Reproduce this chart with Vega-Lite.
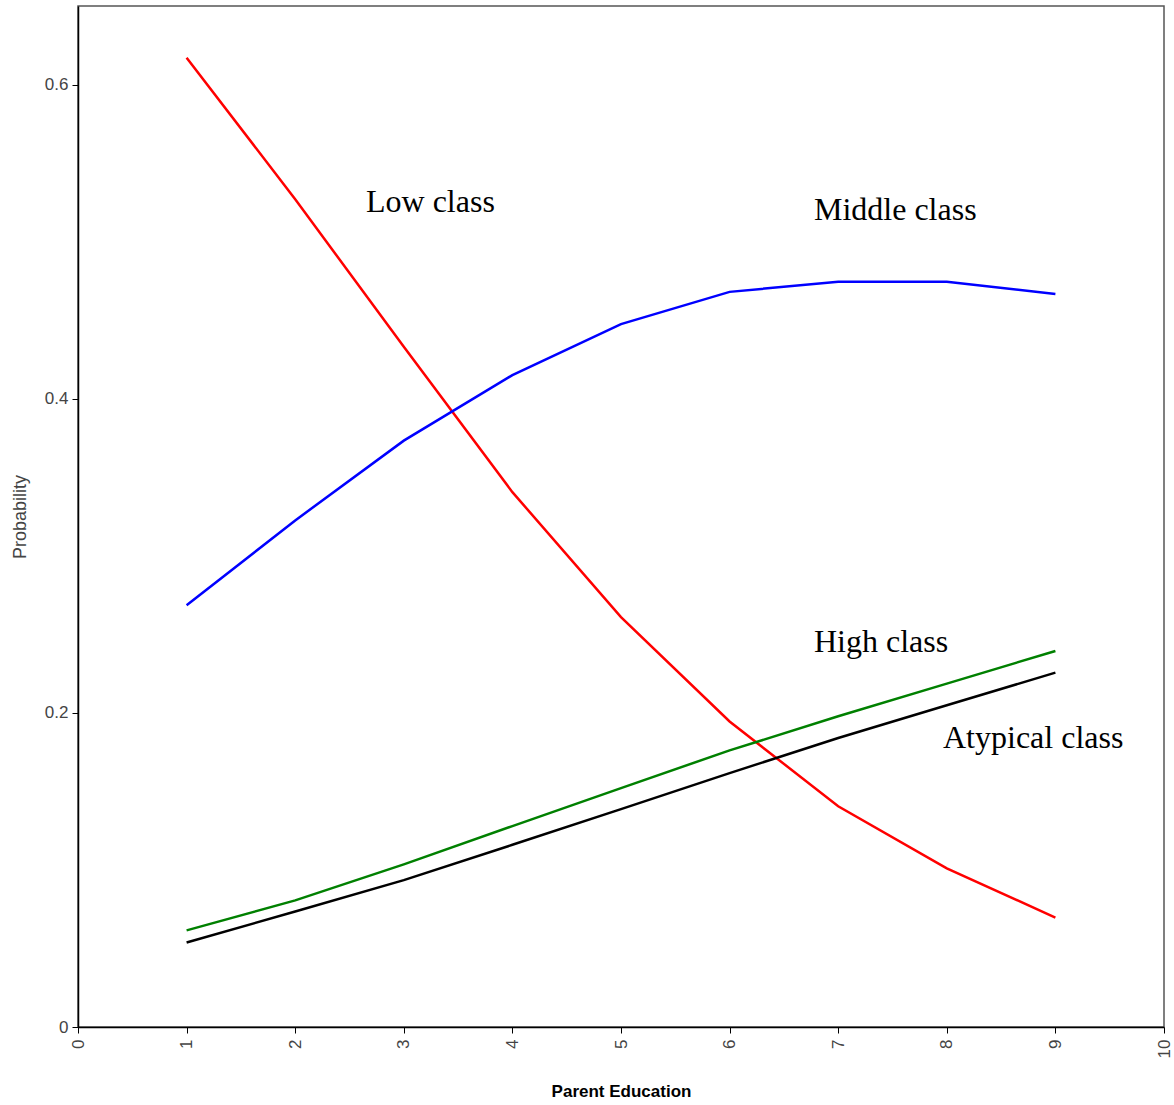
{
  "$schema": "https://vega.github.io/schema/vega-lite/v6.json",
  "width": 1086,
  "height": 1021,
  "autosize": {"type": "none"},
  "padding": {"left": 78, "top": 6, "right": 10, "bottom": 78},
  "background": "white",
  "config": {
    "view": {"stroke": "#555555", "strokeWidth": 1.5},
    "axis": {
      "grid": false,
      "domainColor": "#000000",
      "domainWidth": 1.5,
      "tickColor": "#000000",
      "tickSize": 6,
      "labelFont": "Liberation Sans",
      "labelFontSize": 17,
      "labelColor": "#444444",
      "titleFont": "Liberation Sans",
      "titleFontWeight": "normal"
    }
  },
  "datasets": {
    "curves": [
      {"edu": 1, "prob": 0.617, "cls": "Low"},
      {"edu": 2, "prob": 0.527, "cls": "Low"},
      {"edu": 3, "prob": 0.433, "cls": "Low"},
      {"edu": 4, "prob": 0.3405, "cls": "Low"},
      {"edu": 5, "prob": 0.261, "cls": "Low"},
      {"edu": 6, "prob": 0.1945, "cls": "Low"},
      {"edu": 7, "prob": 0.1405, "cls": "Low"},
      {"edu": 8, "prob": 0.101, "cls": "Low"},
      {"edu": 9, "prob": 0.0697, "cls": "Low"},
      {"edu": 1, "prob": 0.2685, "cls": "Middle"},
      {"edu": 2, "prob": 0.3225, "cls": "Middle"},
      {"edu": 3, "prob": 0.3733, "cls": "Middle"},
      {"edu": 4, "prob": 0.415, "cls": "Middle"},
      {"edu": 5, "prob": 0.4475, "cls": "Middle"},
      {"edu": 6, "prob": 0.468, "cls": "Middle"},
      {"edu": 7, "prob": 0.4745, "cls": "Middle"},
      {"edu": 8, "prob": 0.4745, "cls": "Middle"},
      {"edu": 9, "prob": 0.4666, "cls": "Middle"},
      {"edu": 1, "prob": 0.0615, "cls": "High"},
      {"edu": 2, "prob": 0.0806, "cls": "High"},
      {"edu": 3, "prob": 0.1035, "cls": "High"},
      {"edu": 4, "prob": 0.1279, "cls": "High"},
      {"edu": 5, "prob": 0.1521, "cls": "High"},
      {"edu": 6, "prob": 0.1761, "cls": "High"},
      {"edu": 7, "prob": 0.1978, "cls": "High"},
      {"edu": 8, "prob": 0.2186, "cls": "High"},
      {"edu": 9, "prob": 0.2394, "cls": "High"},
      {"edu": 1, "prob": 0.0538, "cls": "Atypical"},
      {"edu": 2, "prob": 0.0735, "cls": "Atypical"},
      {"edu": 3, "prob": 0.0935, "cls": "Atypical"},
      {"edu": 4, "prob": 0.116, "cls": "Atypical"},
      {"edu": 5, "prob": 0.1387, "cls": "Atypical"},
      {"edu": 6, "prob": 0.1616, "cls": "Atypical"},
      {"edu": 7, "prob": 0.184, "cls": "Atypical"},
      {"edu": 8, "prob": 0.2048, "cls": "Atypical"},
      {"edu": 9, "prob": 0.2256, "cls": "Atypical"}
    ],
    "labels": [
      {"edu": 2.652, "prob": 0.519, "text": "Low class"},
      {"edu": 6.777, "prob": 0.5137, "text": "Middle class"},
      {"edu": 6.777, "prob": 0.2385, "text": "High class"},
      {"edu": 7.965, "prob": 0.1774, "text": "Atypical class"}
    ]
  },
  "layer": [
    {
      "data": {"name": "curves"},
      "mark": {"type": "line", "strokeWidth": 2.5},
      "encoding": {
        "x": {
          "field": "edu",
          "type": "quantitative",
          "scale": {"domain": [0, 10], "nice": false, "zero": false},
          "axis": {
            "title": "Parent Education",
            "values": [0, 1, 2, 3, 4, 5, 6, 7, 8, 9, 10],
            "format": "d",
            "labelAngle": -90,
            "labelPadding": 6,
            "labelFlush": false,
            "titleFont": "Liberation Sans Narrow, Liberation Sans",
            "titleFontWeight": "bold",
            "titleFontSize": 17,
            "titleColor": "#000000",
            "titlePadding": 26
          }
        },
        "y": {
          "field": "prob",
          "type": "quantitative",
          "scale": {"domain": [0, 0.65], "nice": false},
          "axis": {
            "title": "Probability",
            "values": [0, 0.2, 0.4, 0.6],
            "format": "~g",
            "labelPadding": 4,
            "labelFlush": false,
            "titleFontSize": 18,
            "titleColor": "#444444",
            "titlePadding": 15
          }
        },
        "color": {
          "field": "cls",
          "type": "nominal",
          "scale": {
            "domain": ["Low", "Middle", "High", "Atypical"],
            "range": ["#ff0000", "#0000ff", "#008000", "#000000"]
          },
          "legend": null
        },
        "order": {"field": "edu", "type": "quantitative"}
      }
    },
    {
      "data": {"name": "labels"},
      "mark": {
        "type": "text",
        "align": "left",
        "baseline": "alphabetic",
        "font": "Liberation Serif",
        "fontSize": 32,
        "color": "#000000"
      },
      "encoding": {
        "x": {"field": "edu", "type": "quantitative"},
        "y": {"field": "prob", "type": "quantitative"},
        "text": {"field": "text"}
      }
    }
  ]
}
